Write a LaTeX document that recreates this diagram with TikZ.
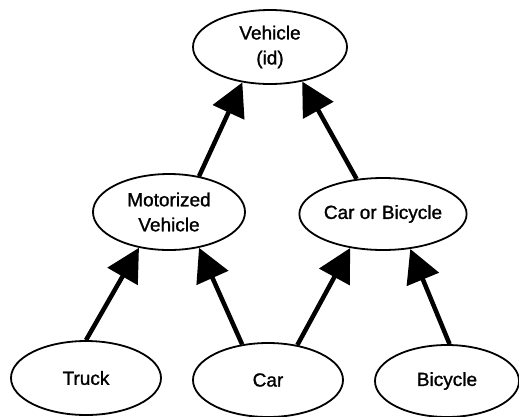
\documentclass[tikz,border=0pt]{standalone}
\usepackage{fontspec}
\setmainfont{Liberation Sans}
\newfontfamily\lblfont{Liberation Sans}[FakeBold=1.2]
\usetikzlibrary{shapes.geometric,arrows.meta}
\tikzset{
  cls/.style={ellipse, draw, line width=1.8pt, inner sep=0pt, align=center,
    font=\lblfont\fontsize{19}{25}\selectfont},
  isa/.style={line width=4.5pt, -{Triangle[length=33pt,width=34pt]}}
}
\begin{document}
\begin{tikzpicture}[x=1pt,y=-1pt]
\useasboundingbox (0,0) rectangle (519,416);
\node[cls, minimum width=154pt, minimum height=74pt] (veh) at (270,47) {Vehicle\\(id)};
\node[cls, minimum width=152pt, minimum height=76pt] (mot) at (169,212) {Motorized\\Vehicle};
\node[cls, minimum width=154pt, minimum height=72pt] (cob) at (383,214) {Car or Bicycle};
\node[cls, minimum width=150pt, minimum height=74pt] (truck) at (86,378) {Truck};
\node[cls, minimum width=150pt, minimum height=74pt] (car) at (268,380) {Car};
\node[cls, minimum width=144pt, minimum height=72pt] (bic) at (447,381) {Bicycle};
\draw[isa] (mot.50.4) -- (veh.232);
\draw[isa] (cob.127.5) -- (veh.313.5);
\draw[isa] (truck.90) -- (mot.230.4);
\draw[isa] (car.126.8) -- (mot.310.7);
\draw[isa] (car.50.8) -- (cob.226.7);
\draw[isa] (bic.86) -- (cob.308.7);
\end{tikzpicture}
\end{document}
